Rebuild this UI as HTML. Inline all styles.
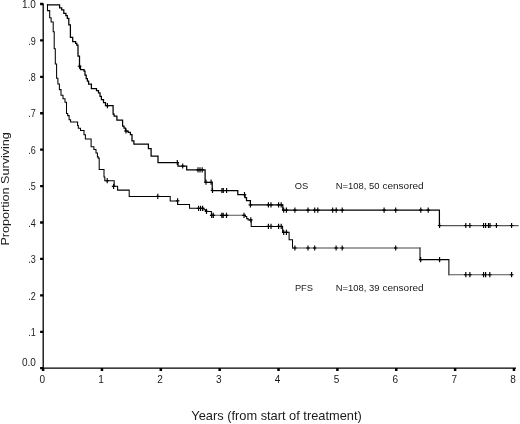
<!DOCTYPE html>
<html><head><meta charset="utf-8"><style>
html,body{margin:0;padding:0;background:#fff;}
svg{display:block;will-change:transform;filter:blur(0.3px);}
text{font-family:"Liberation Sans",sans-serif;fill:#1a1a1a;}
</style></head><body>
<svg width="520" height="424" viewBox="0 0 520 424">
<rect width="520" height="424" fill="#fff"/>
<g fill="none" stroke="#000" stroke-linecap="butt" stroke-linejoin="miter">
<path d="M43.2 3.5V368.2H516" stroke-width="1.3"/>
<path d="M43.10 368V370.9M101.96 368V370.9M160.82 368V370.9M219.68 368V370.9M278.54 368V370.9M337.40 368V370.9M396.26 368V370.9M455.12 368V370.9M513.98 368V370.9" stroke-width="2.5"/>
<path d="M40.1 368.20H43.2M40.1 331.78H43.2M40.1 295.36H43.2M40.1 258.94H43.2M40.1 222.52H43.2M40.1 186.10H43.2M40.1 149.68H43.2M40.1 113.26H43.2M40.1 76.84H43.2M40.1 40.42H43.2M40.1 4.00H43.2" stroke-width="2.3"/>
<path d="M47.5 4.8H59.6M59.6 4.8V7.8M59.6 7.8H61.7M61.7 7.8V9.9M61.7 9.9H63.8M63.8 9.9V13.4M63.8 13.4H65.9M65.9 13.4V15.6M65.9 15.6H67.3M67.3 15.6V18.4M67.3 18.4H68.8M68.8 18.4V24.8M68.8 24.8H70.4M70.4 24.8V37.4M70.4 37.4H72.7M72.7 37.4V41.5M72.7 41.5H75.6M75.6 41.5V43.3M75.6 43.3H76.8M76.8 43.3V45M76.8 45H78.0M78.0 45V56.2M78.0 56.2H79.5M79.5 56.2V66.2M79.5 66.2H80.5M80.5 66.2V69.5M80.5 69.5H84M84 69.5V71M84 71H85M85 71V75M85 75H86.2M86.2 75V78.6M86.2 78.6H87.4M87.4 78.6V81M87.4 81H88.6M88.6 81V84M88.6 84H91.4M91.4 84V88.5M91.4 88.5H96.5M96.5 88.5V90.7M96.5 90.7H98.5M98.5 90.7V92.8M98.5 92.8H100M100 92.8V96.4M100 96.4H101.4M101.4 96.4V99.5M101.4 99.5H103.5M103.5 99.5V102.7M103.5 102.7H105.5M105.5 102.7V105.6M105.5 105.6H113.1M113.1 105.6V114M113.1 114H114.1M114.1 114V116.2M114.1 116.2H116.9M116.9 116.2V120M116.9 120H122.6M122.6 120V126M122.6 126H124M124 126V128.2M124 128.2H125.5M125.5 128.2V131M125.5 131H128.2M128.2 131V132.4M128.2 132.4H130.4M130.4 132.4V134.6M130.4 134.6H132M132 134.6V140.9M132 140.9H133.9M133.9 140.9V144M133.9 144H148.4M148.4 144V148.5M148.4 148.5H151.1M151.1 148.5V156M151.1 156H158M158 156V162.5M158 162.5H178M178 162.5V166M178 166H186.7M186.7 166V169.9M186.7 169.9H205.1M205.1 169.9V182.3M205.1 182.3H212.2M212.2 182.3V190.5M212.2 190.5H237.8M237.8 190.5V194.7M237.8 194.7H245M245 194.7V197.7M245 197.7H246.5M246.5 197.7V200.5M246.5 200.5H250.4M250.4 200.5V204.8M250.4 204.8H282.8M282.8 204.8V210.1M282.8 210.1H439.4M439.4 210.1V225.5" stroke="#000" stroke-width="1.25" stroke-linecap="square"/><path d="M439.4 225.5H518" stroke="#555" stroke-width="1.25" stroke-linecap="square"/>
<path d="M47.5 4.8V10.6M47.5 10.6H49.7M49.7 10.6V17.7M49.7 17.7H51.1M51.1 17.7V21.9M51.1 21.9H53.2M53.2 21.9V31.8M53.2 31.8H54.2M54.2 31.8V48.8M54.2 48.8H55.3M55.3 48.8V64M55.3 64H56.6M56.6 64V78.3M56.6 78.3H57.9M57.9 78.3V84M57.9 84H59.4M59.4 84V89.6M59.4 89.6H61.0M61.0 89.6V95.3M61.0 95.3H63.0M63.0 95.3V98.8M63.0 98.8H65.0M65.0 98.8V102.3M65.0 102.3H66.5M66.5 102.3V113.4M66.5 113.4H67.7M67.7 113.4V115.6M67.7 115.6H69.1M69.1 115.6V119.8M69.1 119.8H70.6M70.6 119.8V121.9M70.6 121.9H77.6M77.6 121.9V125.5M77.6 125.5H78.3M78.3 125.5V128.3M78.3 128.3H80.5M80.5 128.3V130.4M80.5 130.4H84M84 130.4V134.7M84 134.7H85.4M85.4 134.7V138.9M85.4 138.9H91.1M91.1 138.9V146.7M91.1 146.7H93.9M93.9 146.7V149.5M93.9 149.5H96M96 149.5V153M96 153H97.4M97.4 153V156.6M97.4 156.6H98.1M98.1 156.6V158.1M98.1 158.1H99.2M99.2 158.1V169.5M99.2 169.5H104M104 169.5V176.9M104 176.9H104.8M104.8 176.9V180.7M104.8 180.7H114.2M114.2 180.7V186.3M114.2 186.3H117.6M117.6 186.3V190.1M117.6 190.1H129.2M129.2 190.1V196.4M129.2 196.4H170.2M170.2 196.4V200.9M170.2 200.9H177.6M177.6 200.9V204.5M177.6 204.5H189.5M189.5 204.5V208.3M189.5 208.3H203.9M203.9 208.3V209.8M203.9 209.8H205.5M205.5 209.8V211.4M205.5 211.4H211.4M211.4 211.4V215.3M245.4 215.3V216.5M245.4 216.5H246.7M246.7 216.5V218.6M246.7 218.6H248.1M248.1 218.6V219.9M248.1 219.9H251.2M251.2 219.9V226.4M251.2 226.4H282.6M282.6 226.4V232.3M282.6 232.3H289.1M289.1 232.3V239.7M289.1 239.7H292.5M292.5 239.7V248.0M420 248.0V259.6M420 259.6H448.9M448.9 259.6V274.7" stroke="#000" stroke-width="1.05" stroke-linecap="square"/><path d="M211.4 215.3H245.4M448.9 274.7H512.6" stroke="#555" stroke-width="1.05" stroke-linecap="square"/><path d="M292.5 248.0H420" stroke="#444" stroke-width="1.05" stroke-linecap="square"/>
<path d="M79.5 63.6V68.8M77.7 66.2H81.3M107.4 103.0V108.19999999999999M105.60000000000001 105.6H109.2M126 128.4V133.6M124.2 131H127.8M177.3 159.9V165.1M175.5 162.5H179.10000000000002M182.7 163.4V168.6M180.89999999999998 166H184.5M198.0 167.3V172.5M196.2 169.9H199.8M200.0 167.3V172.5M198.2 169.9H201.8M202.2 167.3V172.5M200.39999999999998 169.9H204.0M206 179.6V184.79999999999998M204.2 182.2H207.8M211.1 179.6V184.79999999999998M209.29999999999998 182.2H212.9M212.5 187.9V193.1M210.7 190.5H214.3M221.9 187.9V193.1M220.1 190.5H223.70000000000002M223.3 187.9V193.1M221.5 190.5H225.10000000000002M226.6 187.9V193.1M224.79999999999998 190.5H228.4M244.5 192.1V197.29999999999998M242.7 194.7H246.3M250.4 202.20000000000002V207.4M248.6 204.8H252.20000000000002M268.4 202.20000000000002V207.4M266.59999999999997 204.8H270.2M271.0 202.20000000000002V207.4M269.2 204.8H272.8M278.6 202.20000000000002V207.4M276.8 204.8H280.40000000000003M281.2 202.20000000000002V207.4M279.4 204.8H283.0M283.7 207.5V212.7M281.9 210.1H285.5M286.4 207.5V212.7M284.59999999999997 210.1H288.2M294.9 207.5V212.7M293.09999999999997 210.1H296.7M308 207.5V212.7M306.2 210.1H309.8M314.7 207.5V212.7M312.9 210.1H316.5M317.8 207.5V212.7M316.0 210.1H319.6M332.7 207.5V212.7M330.9 210.1H334.5M336.2 207.5V212.7M334.4 210.1H338.0M342.2 207.5V212.7M340.4 210.1H344.0M384.1 207.5V212.7M382.3 210.1H385.90000000000003M395.7 207.5V212.7M393.9 210.1H397.5M420.8 207.5V212.7M419.0 210.1H422.6M428.2 207.5V212.7M426.4 210.1H430.0M439.6 222.9V228.1M437.8 225.5H441.40000000000003M465.8 222.9V228.1M464.0 225.5H467.6M469.9 222.9V228.1M468.09999999999997 225.5H471.7M483.6 222.9V228.1M481.8 225.5H485.40000000000003M485.6 222.9V228.1M483.8 225.5H487.40000000000003M488.5 222.9V228.1M486.7 225.5H490.3M490 222.9V228.1M488.2 225.5H491.8M496.4 222.9V228.1M494.59999999999997 225.5H498.2M511.6 222.9V228.1M509.8 225.5H513.4" stroke-width="1.15"/>
<path d="M107.2 178.1V183.29999999999998M105.4 180.7H109.0M113.6 183.70000000000002V188.9M111.8 186.3H115.39999999999999M157.8 193.8V199.0M156.0 196.4H159.60000000000002M177.6 198.3V203.5M175.79999999999998 200.9H179.4M198.6 205.70000000000002V210.9M196.79999999999998 208.3H200.4M200.6 205.70000000000002V210.9M198.79999999999998 208.3H202.4M202.6 205.70000000000002V210.9M200.79999999999998 208.3H204.4M206.5 208.8V214.0M204.7 211.4H208.3M211.7 212.70000000000002V217.9M209.89999999999998 215.3H213.5M213.3 212.70000000000002V217.9M211.5 215.3H215.10000000000002M221.8 212.70000000000002V217.9M220.0 215.3H223.60000000000002M223.2 212.70000000000002V217.9M221.39999999999998 215.3H225.0M226.5 212.70000000000002V217.9M224.7 215.3H228.3M244 212.70000000000002V217.9M242.2 215.3H245.8M250.8 217.3V222.5M249.0 219.9H252.60000000000002M268.4 223.8V229.0M266.59999999999997 226.4H270.2M271.0 223.8V229.0M269.2 226.4H272.8M278.6 223.8V229.0M276.8 226.4H280.40000000000003M281.2 223.8V229.0M279.4 226.4H283.0M283.7 229.70000000000002V234.9M281.9 232.3H285.5M286.4 229.70000000000002V234.9M284.59999999999997 232.3H288.2M294.9 245.4V250.6M293.09999999999997 248.0H296.7M308 245.4V250.6M306.2 248.0H309.8M314.7 245.4V250.6M312.9 248.0H316.5M336.1 245.4V250.6M334.3 248.0H337.90000000000003M342.2 245.4V250.6M340.4 248.0H344.0M395.7 245.4V250.6M393.9 248.0H397.5M420.7 257.0V262.20000000000005M418.9 259.6H422.5M439.6 257.0V262.20000000000005M437.8 259.6H441.40000000000003M465.8 272.09999999999997V277.3M464.0 274.7H467.6M469.9 272.09999999999997V277.3M468.09999999999997 274.7H471.7M483.6 272.09999999999997V277.3M481.8 274.7H485.40000000000003M485.6 272.09999999999997V277.3M483.8 274.7H487.40000000000003M489.8 272.09999999999997V277.3M488.0 274.7H491.6M511.6 272.09999999999997V277.3M509.8 274.7H513.4" stroke-width="1.15"/>
</g>
<g font-size="10"><text x="42.20" y="382.8" text-anchor="middle">0</text><text x="101.06" y="382.8" text-anchor="middle">1</text><text x="159.92" y="382.8" text-anchor="middle">2</text><text x="218.78" y="382.8" text-anchor="middle">3</text><text x="277.64" y="382.8" text-anchor="middle">4</text><text x="336.50" y="382.8" text-anchor="middle">5</text><text x="395.36" y="382.8" text-anchor="middle">6</text><text x="454.22" y="382.8" text-anchor="middle">7</text><text x="513.08" y="382.8" text-anchor="middle">8</text><text x="35.8" y="366.00" text-anchor="end">0.0</text><text x="28.29" y="335.98" textLength="7.51" lengthAdjust="spacingAndGlyphs">.1</text><text x="28.29" y="299.56" textLength="7.51" lengthAdjust="spacingAndGlyphs">.2</text><text x="28.29" y="263.14" textLength="7.51" lengthAdjust="spacingAndGlyphs">.3</text><text x="28.29" y="226.72" textLength="7.51" lengthAdjust="spacingAndGlyphs">.4</text><text x="28.29" y="190.30" textLength="7.51" lengthAdjust="spacingAndGlyphs">.5</text><text x="28.29" y="153.88" textLength="7.51" lengthAdjust="spacingAndGlyphs">.6</text><text x="28.29" y="117.46" textLength="7.51" lengthAdjust="spacingAndGlyphs">.7</text><text x="28.29" y="81.04" textLength="7.51" lengthAdjust="spacingAndGlyphs">.8</text><text x="28.29" y="44.62" textLength="7.51" lengthAdjust="spacingAndGlyphs">.9</text><text x="35.8" y="7.60" text-anchor="end">1.0</text></g>
<g font-size="9.3">
<text x="294.7" y="188.8">OS</text>
<text x="335.8" y="188.8" textLength="30.6" lengthAdjust="spacingAndGlyphs">N=108,</text>
<text x="369.1" y="188.8" textLength="10.5" lengthAdjust="spacingAndGlyphs">50</text>
<text x="382.4" y="188.8" textLength="41.3" lengthAdjust="spacingAndGlyphs">censored</text>
<text x="294.9" y="291.2">PFS</text>
<text x="335.8" y="291.2" textLength="30.6" lengthAdjust="spacingAndGlyphs">N=108,</text>
<text x="369.1" y="291.2" textLength="10.5" lengthAdjust="spacingAndGlyphs">39</text>
<text x="382.4" y="291.2" textLength="41.3" lengthAdjust="spacingAndGlyphs">censored</text>
</g>
<text x="191.3" y="419.7" font-size="13" textLength="170.5" lengthAdjust="spacingAndGlyphs">Years (from start of treatment)</text>
<text transform="translate(9.4 245.6) rotate(-90)" font-size="11" textLength="113.5" lengthAdjust="spacingAndGlyphs">Proportion Surviving</text>
</svg>
</body></html>
